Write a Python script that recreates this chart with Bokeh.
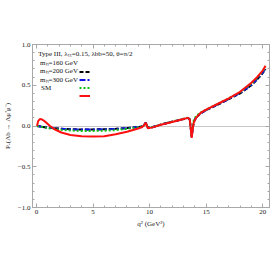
from bokeh.plotting import figure
from bokeh.models import (Range1d, LinearAxis, Legend, LegendItem, Label,
                          FixedTicker)
from bokeh.embed import file_html
from bokeh.resources import INLINE

# ---- data ----
q2_sm = [0.05, 0.15, 0.3, 0.5, 0.8, 1.2, 1.6, 2.2, 3.0, 4.0, 5.0, 6.0, 7.0, 8.0, 9.0, 9.3,
         9.5, 9.65, 9.75, 9.85, 10.2, 11.0, 12.0, 13.0, 13.4, 13.55, 13.65, 13.72, 13.8,
         13.9, 14.1, 14.5, 15.0, 16.0, 17.0, 18.0, 19.0, 19.5, 20.0, 20.25]
p_sm = [0.0, 0.06, 0.085, 0.08, 0.05, 0.0, -0.04, -0.08, -0.11, -0.125, -0.128, -0.125,
        -0.10, -0.07, -0.03, -0.015, 0.005, 0.04, 0.01, -0.028, -0.02, 0.015, 0.05, 0.085,
        0.1, 0.08, -0.05, -0.145, -0.05, 0.04, 0.1, 0.16, 0.2, 0.27, 0.34, 0.42, 0.53, 0.6,
        0.68, 0.74]

q2_np = [0.05, 1.0, 2.0, 3.0, 4.0, 5.0, 6.0, 7.0, 8.0, 9.0, 9.3, 9.5, 9.65, 9.75, 9.85,
         10.2, 11.0, 12.0, 13.0, 13.4, 13.55, 13.65, 13.72, 13.8, 13.9, 14.1, 14.5, 15.0,
         16.0, 17.0, 18.0, 19.0, 19.5, 20.0, 20.25]
p_160 = [0.0, -0.02, -0.032, -0.04, -0.042, -0.042, -0.04, -0.035, -0.025, -0.012, -0.006,
         0.008, 0.04, 0.012, -0.022, -0.016, 0.017, 0.052, 0.085, 0.1, 0.08, -0.04, -0.13,
         -0.04, 0.05, 0.1, 0.155, 0.195, 0.26, 0.33, 0.40, 0.50, 0.57, 0.65, 0.70]
p_200 = [0.0, -0.021, -0.033, -0.041, -0.043, -0.043, -0.041, -0.036, -0.026, -0.012,
         -0.006, 0.008, 0.04, 0.012, -0.022, -0.016, 0.017, 0.052, 0.085, 0.1, 0.08, -0.04,
         -0.13, -0.04, 0.05, 0.1, 0.155, 0.196, 0.262, 0.332, 0.405, 0.505, 0.575, 0.655,
         0.705]
p_300 = [0.0, -0.025, -0.045, -0.055, -0.06, -0.06, -0.058, -0.05, -0.035, -0.015, -0.008,
         0.007, 0.04, 0.012, -0.022, -0.016, 0.018, 0.054, 0.088, 0.103, 0.085, -0.03,
         -0.125, -0.02, 0.07, 0.12, 0.165, 0.2, 0.27, 0.34, 0.415, 0.52, 0.59, 0.67, 0.72]

x_ticks = [0, 5, 10, 15, 20]
x_minor = list(range(0, 21))
y_ticks = [-1.0, -0.5, 0.0, 0.5, 1.0]
y_tick_labels = ["−1.0", "−0.5", "0.0", "0.5", "1.0"]
y_minor = [round(-1 + 0.1 * i, 2) for i in range(21)]

FONT = "Liberation Serif"
GRAY = "#a8a8a8"

p = figure(width=270, height=270, output_backend="svg", toolbar_location=None,
           x_range=Range1d(-0.35, 20.6), y_range=Range1d(-1.0, 1.0),
           min_border_top=44, min_border_right=1, min_border_bottom=63,
           min_border_left=10)
p.background_fill_color = "white"
p.border_fill_color = "white"
p.outline_line_color = GRAY
p.xgrid.visible = False
p.ygrid.ticker = FixedTicker(ticks=[0.0])
p.ygrid.grid_line_color = "#c8c8c8"
p.ygrid.grid_line_width = 1

def style_axis(ax, labels=True):
    ax.axis_line_color = GRAY
    ax.major_tick_line_color = GRAY
    ax.minor_tick_line_color = GRAY
    ax.major_tick_in = 4
    ax.major_tick_out = 0
    ax.minor_tick_in = 2
    ax.minor_tick_out = 0
    ax.major_label_text_font = FONT
    ax.major_label_text_color = "#222222"
    ax.major_label_standoff = 2
    ax.major_label_text_font_size = "7px"
    if not labels:
        ax.major_label_text_color = None
        ax.major_label_text_font_size = "1px"
        ax.major_label_standoff = 0

p.xaxis.ticker = FixedTicker(ticks=x_ticks, minor_ticks=x_minor)
p.yaxis.ticker = FixedTicker(ticks=y_ticks, minor_ticks=y_minor)
p.yaxis.major_label_overrides = {t: s for t, s in zip(y_ticks, y_tick_labels)}
style_axis(p.xaxis[0])
style_axis(p.yaxis[0])
p.xaxis.axis_label = "q² (GeV²)"
p.yaxis.axis_label = "Pₓ(Λb → Λμ⁺μ⁻)"
for ax in (p.xaxis[0], p.yaxis[0]):
    ax.axis_label_text_font = FONT
    ax.axis_label_text_font_size = "7px"
    ax.axis_label_text_font_style = "normal"
    ax.axis_label_standoff = 3
    ax.axis_label_text_color = "#222222"

top = LinearAxis(ticker=FixedTicker(ticks=x_ticks, minor_ticks=x_minor))
right = LinearAxis(ticker=FixedTicker(ticks=y_ticks, minor_ticks=y_minor))
style_axis(top, labels=False)
style_axis(right, labels=False)
p.add_layout(top, "above")
p.add_layout(right, "right")

r160 = p.line(q2_np, p_160, line_color="black", line_width=2, line_dash="4 2")
r200 = p.line(q2_np, p_200, line_color="#1010e0", line_width=2, line_dash="6 2 2 2")
r300 = p.line(q2_np, p_300, line_color="#10c010", line_width=2, line_dash="2 2")
rsm = p.line(q2_sm, p_sm, line_color="#ff1010", line_width=2)

legend = Legend(items=[LegendItem(label=" ", renderers=[r]) for r in (r160, r200, r300, rsm)],
                location=(47, 108), padding=0, margin=0, spacing=1,
                glyph_width=11, glyph_height=7, label_height=7, label_width=0,
                label_standoff=0, label_text_font_size="7px", label_text_color=None,
                background_fill_alpha=0, border_line_alpha=0)
p.add_layout(legend)

texts = ["Type III, λₜₜ=0.15, λbb=50, θ=π/2", "mₕ=160 GeV", "mₕ=200 GeV", "mₕ=300 GeV", "SM"]
tx = [0.15, 0.32, 0.32, 0.32, 0.4]
ty = [0.885, 0.77, 0.67, 0.567, 0.465]
for t, x, y in zip(texts, tx, ty):
    p.add_layout(Label(x=x, y=y, text=t, text_font=FONT, text_font_size="7px",
                       text_baseline="middle", text_color="#111111"))

open("out.html", "w").write(file_html(p, INLINE))
